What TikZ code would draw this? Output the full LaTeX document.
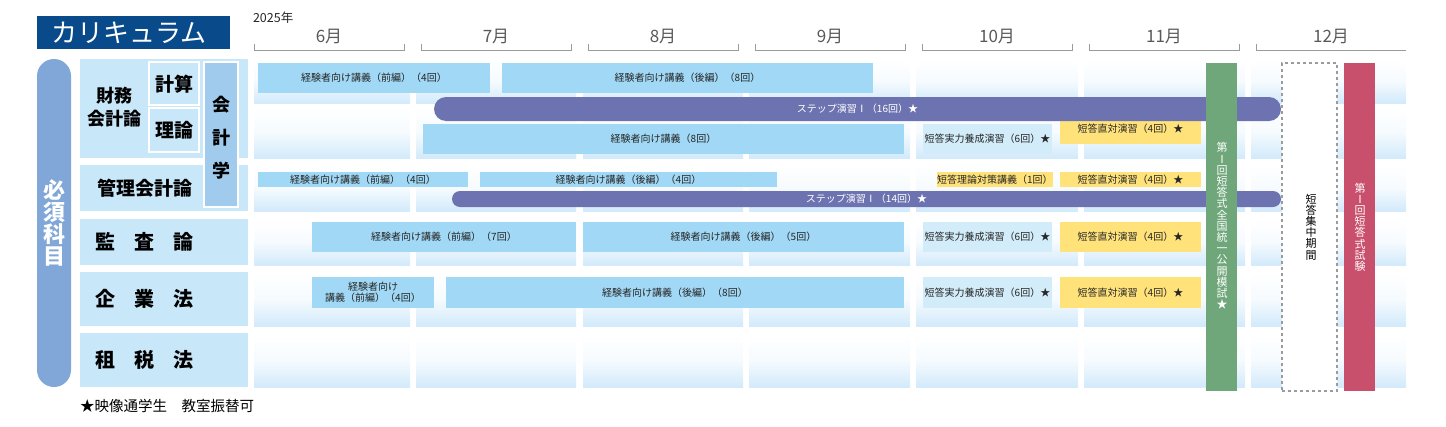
\documentclass[tikz,border=0pt]{standalone}
\usepackage{fontspec}
\setmainfont{Noto Sans CJK JP}
\definecolor{titleblue}{RGB}{8,74,138}
\definecolor{pillblue}{RGB}{128,167,216}
\definecolor{cellblue}{RGB}{200,231,249}
\definecolor{kaikeiblue}{RGB}{160,203,236}
\definecolor{lecblue}{RGB}{160,216,245}
\definecolor{paleblue}{RGB}{210,236,249}
\definecolor{yel}{RGB}{255,226,122}
\definecolor{purp}{RGB}{109,115,176}
\definecolor{grn}{RGB}{111,167,122}
\definecolor{redb}{RGB}{201,80,108}
\definecolor{gridblue}{RGB}{210,234,251}
\definecolor{brgray}{RGB}{155,155,155}
\tikzset{
  base/.style={inner sep=0pt, outer sep=0pt, align=center},
  lec/.style={base, fill=lecblue, font=\fontsize{10}{11.5}\selectfont, text=black!85},
  pale/.style={base, fill=paleblue, font=\fontsize{10}{11.5}\selectfont, text=black!85},
  yelbox/.style={base, fill=yel, font=\fontsize{10}{11.5}\selectfont, text=black!85},
  purpbar/.style={base, fill=purp, font=\fontsize{10}{11.5}\selectfont, text=white},
  labcell/.style={base, fill=cellblue},
  sublab/.style={base, fill=cellblue, draw=white, line width=1.5pt},
  labtext/.style={base, font=\fontsize{19}{23}\selectfont\bfseries, text=black},
  vtext/.style={base, font=\fontsize{11}{11.2}\selectfont},
  month/.style={base, font=\fontsize{17}{17}\selectfont, text=black!65},
  bracket/.style={draw=brgray, line width=1pt},
}
% \rbox[style]{x1}{y1}{x2}{y2}{name}{text}
\newcommand\rbox[7][]{\node[#1, anchor=north west, minimum width={#4-#2}, minimum height={#5-#3}] (#6) at (#2,#3) {#7};}
\begin{document}
\begin{tikzpicture}[x=1pt,y=-1pt]
\useasboundingbox (0,0) rectangle (1446,426);
% title
\rbox[base, fill=titleblue]{37}{16}{230}{49}{titlebox}{}
\node[base, font=\fontsize{26}{26}\selectfont, text=white] (title) at (129,32.5) {カリキュラム};
% year + months
\node[base, anchor=west, font=\fontsize{12.5}{13}\selectfont, text=black!85] (year) at (253,17.5) {2025年};
\foreach \m/\xs [count=\i] in {6月/254,7月/421,8月/588,9月/755,10月/922,11月/1089} {
  \draw[bracket] (\xs,44) -- (\xs,50) -- (\xs+150,50) -- (\xs+150,44);
  \node[month] (m\i) at (\xs+75,36.5) {\m};
}
\draw[bracket] (1256,44) -- (1256,50) -- (1406,50);
\node[month] (m7) at (1331,36.5) {12月};
% grid background
\foreach \xa/\xb in {254/410,416/576,583/743,749/910,916/1078,1084/1245,1251/1406}
  \foreach \ya/\yb in {59/103,106/158,165/211,219/265,272/326,333/387}
    \shade[top color=white,bottom color=gridblue,middle color=white!80!gridblue] (\xa,\ya) rectangle (\xb,\yb);
% left pill
\node[base, fill=pillblue, rounded corners=17pt, anchor=north west, minimum width=34, minimum height=328] (pill) at (37,59) {};
\node[base, font=\fontsize{22}{22}\selectfont\bfseries, text=white] (hissu) at (54,223) {必\\須\\科\\目};
% label cells
\rbox[labcell]{80}{59}{248}{158}{r1}{}
\rbox[labcell]{80}{165}{248}{211}{r2}{}
\rbox[labcell]{80}{219}{248}{265}{r3}{}
\rbox[labcell]{80}{272}{248}{326}{r4}{}
\rbox[labcell]{80}{333}{248}{387}{r5}{}
\rbox[sublab]{149}{62}{199}{105}{keisan}{}
\rbox[sublab]{149}{108}{199}{152}{riron}{}
\rbox[base, fill=kaikeiblue, draw=white, line width=2pt]{204}{62}{238}{207}{kaikei}{}
\node[labtext, font=\fontsize{18}{23}\selectfont\bfseries] (zaimu) at (114,107) {財務\\会計論};
\node[labtext] (keisant) at (174,84) {計算};
\node[labtext] (ripont) at (174,130) {理論};
\node[labtext, font=\fontsize{18}{33}\selectfont\bfseries] (kaikeit) at (221,138) {会\\計\\学};
\node[labtext] (kanri) at (144.5,188) {管理会計論};
\node[labtext, font=\fontsize{20}{20}\selectfont\bfseries] (kansa) at (144.5,242) {監\hspace{19pt}査\hspace{19pt}論};
\node[labtext, font=\fontsize{20}{20}\selectfont\bfseries] (kigyo) at (144.5,299) {企\hspace{19pt}業\hspace{19pt}法};
\node[labtext, font=\fontsize{20}{20}\selectfont\bfseries] (sozei) at (144.5,360) {租\hspace{19pt}税\hspace{19pt}法};
% row 1
\rbox[lec]{258}{63}{490}{93}{b1}{経験者向け講義（前編）（4回）}
\rbox[lec]{502}{63}{873}{93}{b2}{経験者向け講義（後編）（8回）}
\rbox[lec]{423}{124}{904}{154}{b3}{経験者向け講義（8回）}
\rbox[pale]{923}{124}{1052}{154}{s1}{短答実力養成演習（6回）★}
\rbox[yelbox]{1060}{113}{1201}{144}{y1}{短答直対演習（4回）★}
\rbox[purpbar, rounded corners=12pt]{434}{97}{1281}{121}{p1}{ステップ演習Ⅰ（16回）★}
% row 2
\rbox[lec]{258}{172}{468}{187}{b4}{経験者向け講義（前編）（4回）}
\rbox[lec]{480}{172}{777}{187}{b5}{経験者向け講義（後編）（4回）}
\rbox[yelbox]{937}{172}{1052}{187}{y2}{短答理論対策講義（1回）}
\rbox[yelbox]{1060}{172}{1201}{187}{y3}{短答直対演習（4回）★}
\rbox[purpbar, rounded corners=8pt]{452}{191}{1281}{207}{p2}{ステップ演習Ⅰ（14回）★}
% row 3
\rbox[lec]{312}{222}{576}{252}{b6}{経験者向け講義（前編）（7回）}
\rbox[lec]{583}{222}{904}{252}{b7}{経験者向け講義（後編）（5回）}
\rbox[pale]{923}{222}{1052}{252}{s2}{短答実力養成演習（6回）★}
\rbox[yelbox]{1060}{222}{1201}{252}{y4}{短答直対演習（4回）★}
% row 4
\rbox[lec]{312}{277}{434}{308}{b8}{経験者向け\\講義（前編）（4回）}
\rbox[lec]{446}{277}{904}{308}{b9}{経験者向け講義（後編）（8回）}
\rbox[pale]{923}{277}{1052}{308}{s3}{短答実力養成演習（6回）★}
\rbox[yelbox]{1060}{277}{1201}{308}{y5}{短答直対演習（4回）★}
% vertical bars
\rbox[base, fill=grn]{1206}{63}{1237}{391}{green}{}
\node[vtext, text=white] (greent) at (1222,226) {第\\Ⅰ\\回\\短\\答\\式\\全\\国\\統\\一\\公\\開\\模\\試\\★};
\rbox[base, fill=white, draw=brgray, dashed, line width=1.2pt]{1282}{63}{1337}{391}{dash}{}
\node[vtext, text=black] (dasht) at (1311,227) {短\\答\\集\\中\\期\\間};
\rbox[base, fill=redb]{1344}{63}{1375}{391}{red}{}
\node[vtext, text=white] (redt) at (1360,227) {第\\Ⅰ\\回\\短\\答\\式\\試\\験};
% footnote
\node[base, anchor=west, font=\fontsize{14.5}{15}\selectfont, text=black] (note) at (80,406) {★映像通学生　教室振替可};
\end{tikzpicture}
\end{document}
